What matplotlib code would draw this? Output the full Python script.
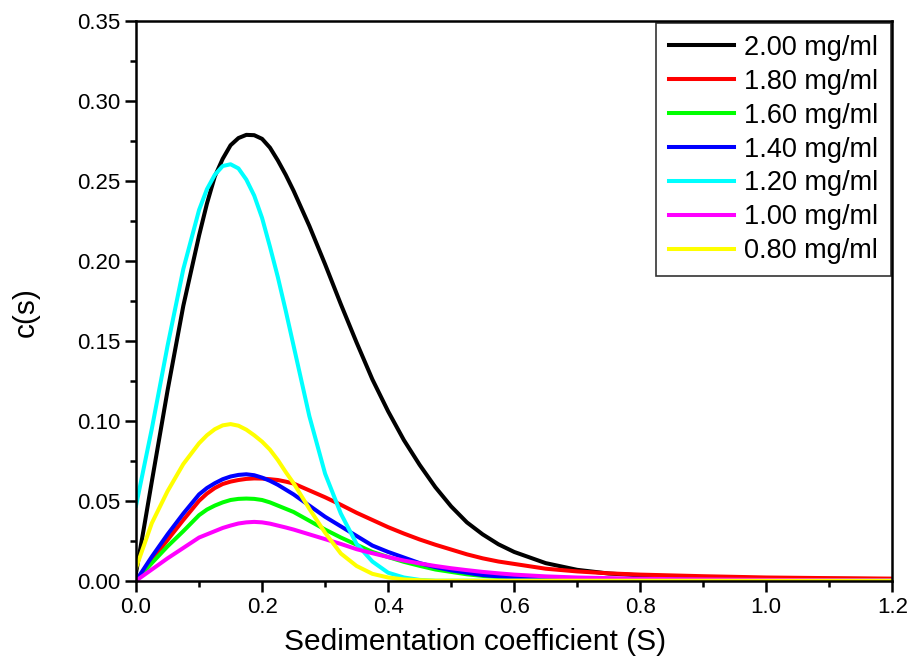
import numpy as np
import matplotlib.pyplot as plt
from matplotlib.ticker import MultipleLocator, FormatStrFormatter

plt.rcParams['font.family'] = ['Liberation Sans', 'DejaVu Sans']

# Sedimentation coefficient (S)
s = [0, 0.0125, 0.025, 0.05, 0.075, 0.1, 0.1125, 0.125, 0.1375, 0.15, 0.1625,
     0.175, 0.1875, 0.2, 0.2125, 0.225, 0.2375, 0.25, 0.275, 0.3, 0.325, 0.35,
     0.375, 0.4, 0.425, 0.45, 0.475, 0.5, 0.525, 0.55, 0.575, 0.6, 0.65, 0.7,
     0.75, 0.8, 0.9, 1.0, 1.1, 1.2]

# c(s) for each concentration
c_200 = [0.005, 0.033, 0.062, 0.119, 0.172, 0.216, 0.236, 0.253, 0.264, 0.2725,
         0.277, 0.279, 0.2788, 0.2765, 0.271, 0.263, 0.254, 0.244, 0.222, 0.198,
         0.173, 0.149, 0.126, 0.106, 0.088, 0.0725, 0.0585, 0.0465, 0.0365, 0.029,
         0.0228, 0.018, 0.011, 0.0068, 0.0045, 0.0033, 0.0022, 0.0015, 0.0012, 0.001]
c_180 = [0, 0.0065, 0.013, 0.0255, 0.038, 0.050, 0.0545, 0.058, 0.0605, 0.062,
         0.063, 0.0637, 0.064, 0.0639, 0.0635, 0.063, 0.062, 0.0608, 0.0565, 0.0522,
         0.0475, 0.0425, 0.038, 0.0335, 0.0295, 0.0258, 0.0225, 0.0195, 0.0165, 0.014,
         0.012, 0.0105, 0.0075, 0.0058, 0.0046, 0.0038, 0.0028, 0.002, 0.0016, 0.0013]
c_160 = [0, 0.0055, 0.011, 0.0215, 0.031, 0.041, 0.0445, 0.047, 0.049, 0.0505,
         0.0512, 0.0514, 0.0512, 0.0505, 0.049, 0.047, 0.045, 0.043, 0.0375, 0.032,
         0.027, 0.0225, 0.018, 0.0148, 0.0118, 0.0093, 0.007, 0.0055, 0.004, 0.003,
         0.0023, 0.0018, 0.001, 0.0005, 0.0003, 0.0002, 0, 0, 0, 0]
c_140 = [0, 0.0075, 0.015, 0.029, 0.042, 0.054, 0.058, 0.061, 0.0635, 0.0652,
         0.0662, 0.0666, 0.066, 0.0645, 0.0625, 0.060, 0.057, 0.054, 0.047, 0.040,
         0.034, 0.028, 0.022, 0.018, 0.0145, 0.011, 0.0085, 0.0065, 0.005, 0.0035,
         0.0027, 0.002, 0.001, 0.0006, 0.0004, 0.0002, 0, 0, 0, 0]
c_120 = [0.047, 0.071, 0.095, 0.147, 0.195, 0.232, 0.245, 0.254, 0.2595, 0.2606,
         0.258, 0.251, 0.241, 0.227, 0.209, 0.19, 0.169, 0.147, 0.103, 0.067,
         0.042, 0.023, 0.012, 0.005, 0.002, 0.0005, 0, 0, 0, 0,
         0, 0, 0, 0, 0, 0, 0, 0, 0, 0]
c_100 = [0, 0.0035, 0.007, 0.014, 0.0205, 0.027, 0.029, 0.031, 0.033, 0.0345,
         0.0358, 0.0365, 0.0368, 0.0365, 0.0357, 0.0345, 0.0333, 0.032, 0.029, 0.026,
         0.023, 0.0197, 0.0172, 0.0148, 0.0126, 0.0108, 0.0092, 0.0078, 0.0066, 0.0055,
         0.0046, 0.0038, 0.0027, 0.002, 0.0016, 0.0012, 0.0008, 0.0005, 0.0003, 0.0002]
c_080 = [0.008, 0.022, 0.036, 0.056, 0.073, 0.086, 0.091, 0.0948, 0.0972, 0.098,
         0.097, 0.0945, 0.091, 0.087, 0.082, 0.0755, 0.068, 0.061, 0.045, 0.030,
         0.017, 0.0092, 0.0043, 0.002, 0.0008, 0.0003, 0, 0, 0, 0,
         0, 0, 0, 0, 0, 0, 0, 0, 0, 0]

labels = ['2.00 mg/ml', '1.80 mg/ml', '1.60 mg/ml', '1.40 mg/ml',
          '1.20 mg/ml', '1.00 mg/ml', '0.80 mg/ml']
colors = ['#000000', '#ff0000', '#00ff00', '#0000ff', '#00ffff', '#ff00ff', '#ffff00']
series = [c_200, c_180, c_160, c_140, c_120, c_100, c_080]

fig = plt.figure(figsize=(9.1, 6.69), dpi=100)
ax = fig.add_axes([0.1495, 0.132, 0.831, 0.836])

for ys, col, lab in zip(series, colors, labels):
    ax.plot(s, ys, color=col, lw=2.9, label=lab, solid_joinstyle='round')

ax.set_xlim(0, 1.2)
ax.set_ylim(0, 0.35)
ax.xaxis.set_major_locator(MultipleLocator(0.2))
ax.xaxis.set_minor_locator(MultipleLocator(0.1))
ax.yaxis.set_major_locator(MultipleLocator(0.05))
ax.yaxis.set_minor_locator(MultipleLocator(0.025))
ax.xaxis.set_major_formatter(FormatStrFormatter('%.1f'))
ax.yaxis.set_major_formatter(FormatStrFormatter('%.2f'))

for sp in ax.spines.values():
    sp.set_linewidth(1.8)
ax.tick_params(which='major', direction='out', length=8, width=1.8, labelsize=16)
ax.tick_params(which='minor', direction='out', length=4.5, width=1.8)

ax.set_xlabel('Sedimentation coefficient (S)', fontsize=21.5)
ax.xaxis.set_label_coords(0.448, -0.085)
ax.set_ylabel('c(s)', fontsize=21.5)
ax.yaxis.set_label_coords(-0.127, 0.48)

leg = ax.legend(loc='upper right', fontsize=19.5, frameon=True, fancybox=False,
                edgecolor='black', borderaxespad=0.05, handlelength=2.4,
                labelspacing=0.29, handletextpad=0.4, borderpad=0.45)
leg.get_frame().set_linewidth(1.2)

fig.savefig('out.png', dpi=100)
